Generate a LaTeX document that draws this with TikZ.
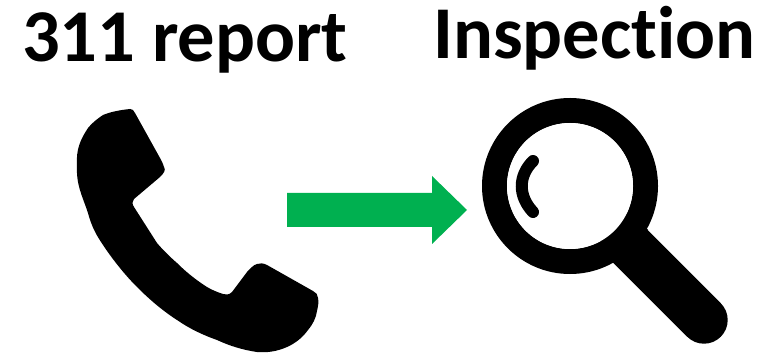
\documentclass[tikz,border=0pt]{standalone}
\usepackage{fontspec}
\setmainfont[Ligatures=NoCommon,Contextuals=NoAlternate]{Carlito}
\tikzset{
  title/.style={font=\fontsize{74.5}{80}\selectfont\bfseries, inner sep=0pt, anchor=base west, text=black},
  glyph/.style={fill=black, draw=none},
}
\definecolor{arrowgreen}{HTML}{00B050}
\begin{document}
\begin{tikzpicture}[x=1pt,y=-1pt]
\useasboundingbox (0,0) rectangle (781,355);
\node[title] (t1) at (22,62) {311 report};
\node[title] (t2) at (433,59) {Inspection};
% phone
\path[glyph] (130,109) .. controls (120,110) and (110,112) .. (103,115)
 .. controls (97,119) and (92,123) .. (88,128)
 .. controls (80,140) and (76,150) .. (77,165)
 .. controls (76,185) and (82,195) .. (88,213)
 .. controls (92,228) and (97,236) .. (103,245)
 .. controls (113,260) and (125,275) .. (137,287)
 .. controls (150,300) and (163,311) .. (177,320)
 .. controls (190,329) and (203,335) .. (217,340)
 .. controls (230,346) and (243,350) .. (257,352)
 .. controls (268,353) and (278,351) .. (287,347)
 .. controls (296,343) and (303,337) .. (308,330)
 .. controls (313,324) and (316,318) .. (317,311)
 .. controls (318,306) and (319,302) .. (318,298)
 .. controls (318,295) and (316,292) .. (313,291)
 -- (267,265) .. controls (263,263) and (260,263) .. (257,264)
 .. controls (253,265) and (250,269) .. (247,272)
 -- (232,292) .. controls (229,295) and (226,295) .. (223,294)
 .. controls (217,292) and (212,290) .. (207,287)
 .. controls (196,280) and (186,272) .. (177,263)
 .. controls (169,256) and (163,250) .. (157,243)
 -- (134,207) .. controls (132,204) and (132,201) .. (134,199)
 -- (160,177) .. controls (164,173) and (166,170) .. (164,167)
 .. controls (163,164) and (162,161) .. (160,158)
 -- (135,113) .. controls (134,110) and (132,109) .. (130,109) -- cycle;
% arrow
\path[fill=arrowgreen] (287,193) -- (432,193) -- (432,176) -- (467,210) -- (432,244) -- (432,227) -- (287,227) -- cycle;
% magnifier
\draw[black, line width=25pt] (570,186) circle[radius=75.5];
\draw[black, line width=47.4pt, line cap=round] (704,320) -- (625,241);
\path[glyph] (648,230) -- (614,263) -- (600,240) -- (630,210) -- cycle;
\fill[white] (570,186) circle[radius=63];
\draw[black, line width=12pt, line cap=round] (533,161) .. controls (518,176) and (518,196) .. (533,212);
\end{tikzpicture}
\end{document}
